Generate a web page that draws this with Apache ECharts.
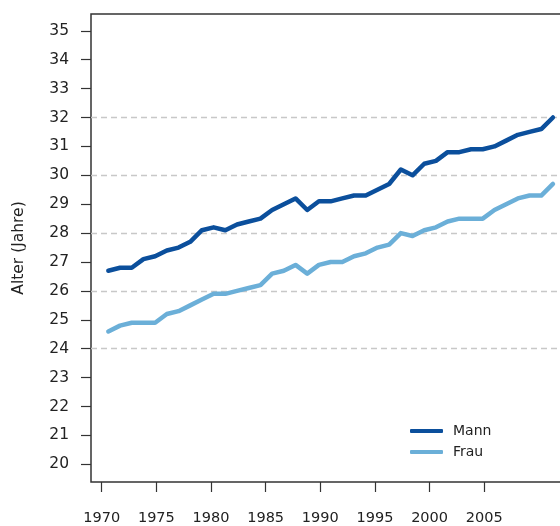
<!DOCTYPE html>
<html>
<head>
<meta charset="utf-8">
<script src="https://cdn.jsdelivr.net/npm/echarts@6/dist/echarts.min.js"></script>
<style>
  html, body { margin: 0; padding: 0; background: #fff; overflow: hidden; }
  /* a bit wider than the window so the right frame edge falls off the picture */
  #chart { width: 570px; height: 526px; }
</style>
</head>
<body>
<div id="chart"></div>
<script>
// data
const years = [1970, 1971, 1972, 1973, 1974, 1975, 1976, 1977, 1978, 1979,
  1980, 1981, 1982, 1983, 1984, 1985, 1986, 1987, 1988, 1989,
  1990, 1991, 1992, 1993, 1994, 1995, 1996, 1997, 1998, 1999,
  2000, 2001, 2002, 2003, 2004, 2005, 2006, 2007, 2008];
const mann = [26.7, 26.8, 26.8, 27.1, 27.2, 27.4, 27.5, 27.7, 28.1, 28.2,
  28.1, 28.3, 28.4, 28.5, 28.8, 29.0, 29.2, 28.8, 29.1, 29.1,
  29.2, 29.3, 29.3, 29.5, 29.7, 30.2, 30.0, 30.4, 30.5, 30.8,
  30.8, 30.9, 30.9, 31.0, 31.2, 31.4, 31.5, 31.6, 32.0];
const frau = [24.6, 24.8, 24.9, 24.9, 24.9, 25.2, 25.3, 25.5, 25.7, 25.9,
  25.9, 26.0, 26.1, 26.2, 26.6, 26.7, 26.9, 26.6, 26.9, 27.0,
  27.0, 27.2, 27.3, 27.5, 27.6, 28.0, 27.9, 28.1, 28.2, 28.4,
  28.5, 28.5, 28.5, 28.8, 29.0, 29.2, 29.3, 29.3, 29.7];
const yTicks = [20, 21, 22, 23, 24, 25, 26, 27, 28, 29, 30, 31, 32, 33, 34, 35];
const xTicks = [1970, 1975, 1980, 1985, 1990, 1995, 2000, 2005];
const gridValues = [24, 26, 28, 30, 32];

const font = "DejaVu Sans";
const chart = echarts.init(document.getElementById("chart"));

const option = {
  animation: false,
  grid: {
    left: 91, right: 5, top: 14, bottom: 42,
    show: true,
    borderColor: "#333",
    borderWidth: 1.5
  },
  legend: {
    orient: "vertical",
    left: 410,
    top: 423,
    padding: 0,
    itemWidth: 33,
    itemHeight: 4,
    itemGap: 5,
    icon: "roundRect",
    data: ["Mann", "Frau"],
    textStyle: { fontFamily: font, fontSize: 14, color: "#222", lineHeight: 16, padding: [0, 0, 0, 5] }
  },
  xAxis: [
    {
      // data positions
      type: "value",
      min: 1968.52,
      max: 2009.03,
      show: false
    },
    {
      // printed ticks
      type: "value",
      min: 1969.02,
      max: 2012.39,
      position: "bottom",
      axisLine: { show: false },
      splitLine: { show: false },
      axisTick: {
        show: true, length: 10, inside: false,
        customValues: xTicks,
        lineStyle: { color: "#333", width: 1.2 }
      },
      axisLabel: {
        customValues: xTicks,
        formatter: v => String(v),
        margin: 29,
        fontFamily: font, fontSize: 14.5, color: "#222"
      }
    }
  ],
  yAxis: {
    type: "value",
    min: 19.39,
    max: 35.58,
    name: "Alter (Jahre)",
    nameLocation: "middle",
    nameRotate: 90,
    nameGap: 64,
    nameTextStyle: { fontFamily: font, fontSize: 15.5, color: "#222" },
    axisLine: { show: false },
    splitLine: { show: false },
    axisTick: {
      show: true, length: 10,
      customValues: yTicks,
      lineStyle: { color: "#333", width: 1.2 }
    },
    axisLabel: {
      customValues: yTicks,
      margin: 22,
      fontFamily: font, fontSize: 15.5, color: "#222"
    }
  },
  series: [
    {
      name: "grid",
      type: "line",
      data: [],
      z: 1,
      silent: true,
      markLine: {
        z: 1,
        silent: true,
        symbol: "none",
        label: { show: false },
        lineStyle: { type: [6, 4], color: "#c8c8c8", width: 1.4 },
        data: gridValues.map(v => ({ yAxis: v }))
      }
    },
    {
      name: "Mann",
      type: "line",
      xAxisIndex: 0,
      data: years.map((y, i) => [y, mann[i]]),
      showSymbol: false,
      color: "#0b4f9c",
      lineStyle: { width: 4.5, cap: "round", join: "round" },
      z: 3
    },
    {
      name: "Frau",
      type: "line",
      xAxisIndex: 0,
      data: years.map((y, i) => [y, frau[i]]),
      showSymbol: false,
      color: "#6bafd8",
      lineStyle: { width: 4.5, cap: "round", join: "round" },
      z: 3
    }
  ]
};

chart.setOption(option);
</script>
</body>
</html>
